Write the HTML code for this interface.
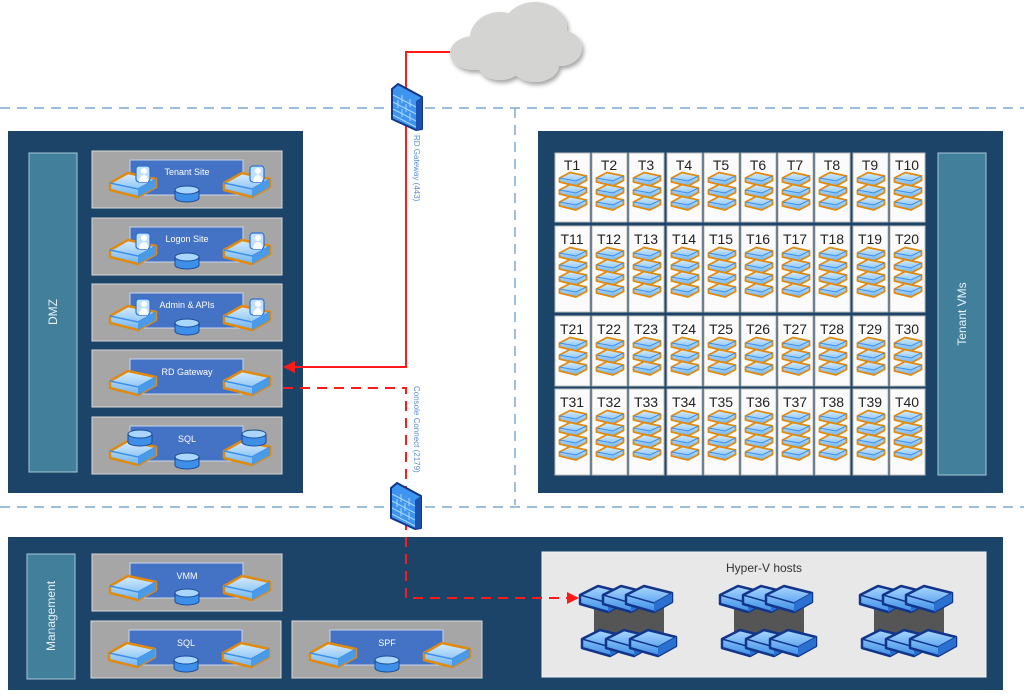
<!DOCTYPE html>
<html><head><meta charset="utf-8"><style>
html,body{margin:0;padding:0;background:#fff;width:1024px;height:695px;overflow:hidden}
svg{display:block}
text{font-family:"Liberation Sans",sans-serif}
</style></head><body>
<svg width="1024" height="695" viewBox="0 0 1024 695" xmlns="http://www.w3.org/2000/svg">
<defs>
<linearGradient id="vmg" x1="0" y1="0" x2="0" y2="1"><stop offset="0" stop-color="#d6ecff"/><stop offset="1" stop-color="#6fb4f0"/></linearGradient>
<linearGradient id="hvg" x1="0" y1="0" x2="0" y2="1"><stop offset="0" stop-color="#a9d6ff"/><stop offset="1" stop-color="#3d8fe8"/></linearGradient>
<symbol id="vm" viewBox="0 0 30 16" width="30" height="16">
<polygon points="1.5,7 12,1.5 28.5,5 28.5,9.5 18,15 1.5,11" fill="url(#vmg)" stroke="#e08a10" stroke-width="1.8" stroke-linejoin="round"/>
<polyline points="1.5,7 18,10 28.5,5" fill="none" stroke="#3d8fe8" stroke-width="1"/>
</symbol>
<symbol id="srv" viewBox="0 0 50 30" width="50" height="30">
<polygon points="2,14 20,4 48,10 48,18 30,28 2,21" fill="url(#vmg)" stroke="#e08a10" stroke-width="2.5" stroke-linejoin="round"/>
<polyline points="2,14 30,20 48,10" fill="none" stroke="#3d8fe8" stroke-width="1.5"/>
<polygon points="30,20 48,10 48,18 30,28" fill="#4a9ae8"/>
</symbol>
<symbol id="usr" viewBox="0 0 16 18" width="16" height="18">
<rect x="1" y="1" width="14" height="16" rx="3" fill="#bfe0ff" stroke="#2d6fd0" stroke-width="1.2"/>
<circle cx="9" cy="6" r="3" fill="#fff"/><path d="M4,17 Q5,10 9,10 Q13,10 13,17Z" fill="#fff"/>
</symbol>
<symbol id="db" viewBox="0 0 26 18" width="26" height="18">
<path d="M1,5 v8 a12,4 0 0 0 24,0 v-8" fill="#3d8fe8" stroke="#1a4a9a" stroke-width="1"/>
<ellipse cx="13" cy="5" rx="12" ry="4" fill="#a9d6ff" stroke="#1a4a9a" stroke-width="1"/>
</symbol>
<symbol id="hv" viewBox="0 0 50 32" width="50" height="32">
<polygon points="2,12 20,3 48,10 48,19 30,29 2,21" fill="url(#hvg)" stroke="#12358a" stroke-width="2.5" stroke-linejoin="round"/>
<polyline points="2,12 30,20 48,10" fill="none" stroke="#12358a" stroke-width="1.5"/>
<polygon points="30,20 48,10 48,19 30,29" fill="#2a70d0"/>
</symbol>
<symbol id="fw" viewBox="0 0 34 48" width="34" height="48">
<polygon points="2,6 8,1 32,14 32,46 26,47 2,36" fill="#3d95f0" stroke="#12358a" stroke-width="2" stroke-linejoin="round"/>
<polygon points="26,18 32,14 32,46 26,47" fill="#1a50b0"/>
<g stroke="#a9d6ff" stroke-width="1" fill="none"><path d="M3,12 L26,24 M3,19 L26,31 M3,26 L26,38 M3,32 L26,44 M12,12 v8 M20,16 v8 M8,17 v8 M16,21 v8 M12,26 v8 M20,30 v8"/></g>
</symbol>
<filter id="sh"><feDropShadow dx="2" dy="3" stdDeviation="2" flood-opacity="0.35"/></filter>
</defs>

<!-- cloud -->
<g filter="url(#sh)" fill="#d4d4d2">
<ellipse cx="474" cy="53" rx="24" ry="17"/>
<ellipse cx="500" cy="38" rx="30" ry="26"/>
<ellipse cx="535" cy="28" rx="32" ry="26"/>
<ellipse cx="560" cy="48" rx="22" ry="18"/>
<ellipse cx="500" cy="65" rx="22" ry="15"/>
<ellipse cx="535" cy="65" rx="24" ry="17"/>
<ellipse cx="520" cy="50" rx="40" ry="22"/>
</g>

<!-- dashed separators -->
<g stroke="#7fa8d4" stroke-width="1.5" stroke-dasharray="10,7" fill="none">
<line x1="0" y1="108" x2="1024" y2="108"/>
<line x1="515" y1="108" x2="515" y2="505"/>
<line x1="0" y1="507" x2="1024" y2="507"/>
</g>

<!-- DMZ panel -->
<rect x="8" y="131" width="295" height="362" fill="#1c4469"/>
<rect x="29" y="153" width="48" height="319" fill="#417f9a" stroke="#a8c8d8" stroke-width="1"/>
<text transform="translate(57,312) rotate(-90)" text-anchor="middle" font-size="12" fill="#e8f0f8">DMZ</text>

<g font-size="9" fill="#fff" text-anchor="middle">
<g transform="translate(92,151)">
<rect width="190" height="57" fill="#a6a6a6" stroke="#d8d8d8"/><rect x="38" y="9" width="113" height="35" fill="#4472c4" stroke="#c8d4ec"/>
<text x="95" y="24">Tenant Site</text>
<use href="#srv" x="16" y="18"/><use href="#usr" x="43" y="14"/>
<use href="#srv" x="130" y="18"/><use href="#usr" x="157" y="14"/>
<use href="#db" x="82" y="34"/>
</g>
<g transform="translate(92,218)">
<rect width="190" height="57" fill="#a6a6a6" stroke="#d8d8d8"/><rect x="38" y="9" width="113" height="35" fill="#4472c4" stroke="#c8d4ec"/>
<text x="95" y="24">Logon Site</text>
<use href="#srv" x="16" y="18"/><use href="#usr" x="43" y="14"/>
<use href="#srv" x="130" y="18"/><use href="#usr" x="157" y="14"/>
<use href="#db" x="82" y="34"/>
</g>
<g transform="translate(92,284)">
<rect width="190" height="57" fill="#a6a6a6" stroke="#d8d8d8"/><rect x="38" y="9" width="113" height="35" fill="#4472c4" stroke="#c8d4ec"/>
<text x="95" y="24">Admin &amp; APIs</text>
<use href="#srv" x="16" y="18"/><use href="#usr" x="43" y="14"/>
<use href="#srv" x="130" y="18"/><use href="#usr" x="157" y="14"/>
<use href="#db" x="82" y="34"/>
</g>
<g transform="translate(92,350)">
<rect width="190" height="57" fill="#a6a6a6" stroke="#d8d8d8"/><rect x="38" y="9" width="113" height="35" fill="#4472c4" stroke="#c8d4ec"/>
<text x="95" y="25">RD Gateway</text>
<use href="#srv" x="16" y="17"/>
<use href="#srv" x="130" y="17"/>
</g>
<g transform="translate(92,417)">
<rect width="190" height="57" fill="#a6a6a6" stroke="#d8d8d8"/><rect x="38" y="9" width="113" height="35" fill="#4472c4" stroke="#c8d4ec"/>
<text x="95" y="25">SQL</text>
<use href="#srv" x="16" y="20"/><use href="#db" x="35" y="12"/>
<use href="#srv" x="130" y="20"/><use href="#db" x="149" y="12"/>
<use href="#db" x="82" y="35"/>
</g>

<!-- Management panel -->
<rect x="8" y="537" width="995" height="153" fill="#1c4469"/>
<rect x="27" y="554" width="48" height="125" fill="#417f9a" stroke="#a8c8d8" stroke-width="1"/>
<text transform="translate(55,616) rotate(-90)" font-size="12" fill="#e8f0f8">Management</text>

<g transform="translate(92,554)">
<rect width="190" height="57" fill="#a6a6a6" stroke="#d8d8d8"/><rect x="38" y="9" width="113" height="35" fill="#4472c4" stroke="#c8d4ec"/>
<text x="95" y="25">VMM</text>
<use href="#srv" x="16" y="18"/><use href="#srv" x="130" y="18"/><use href="#db" x="82" y="34"/>
</g>
<g transform="translate(91,621)">
<rect width="190" height="57" fill="#a6a6a6" stroke="#d8d8d8"/><rect x="38" y="9" width="113" height="35" fill="#4472c4" stroke="#c8d4ec"/>
<text x="95" y="25">SQL</text>
<use href="#srv" x="16" y="18"/><use href="#srv" x="130" y="18"/><use href="#db" x="82" y="34"/>
</g>
<g transform="translate(292,621)">
<rect width="190" height="57" fill="#a6a6a6" stroke="#d8d8d8"/><rect x="38" y="9" width="113" height="35" fill="#4472c4" stroke="#c8d4ec"/>
<text x="95" y="25">SPF</text>
<use href="#srv" x="16" y="18"/><use href="#srv" x="130" y="18"/><use href="#db" x="82" y="34"/>
</g>
</g>

<!-- Hyper-V -->
<rect x="542" y="552" width="444" height="125" fill="#e8e8e8" stroke="#f4f4f4"/>
<text x="764" y="572" text-anchor="middle" font-size="12" fill="#333">Hyper-V hosts</text>
<g transform="translate(578,583)">
<rect x="16" y="22" width="70" height="40" fill="#555"/>
<use href="#hv" x="0" y="0"/><use href="#hv" x="23" y="0"/><use href="#hv" x="46" y="0"/>
<use href="#hv" x="2" y="44"/><use href="#hv" x="26" y="44"/><use href="#hv" x="50" y="44"/>
</g>
<g transform="translate(718,583)">
<rect x="16" y="22" width="70" height="40" fill="#555"/>
<use href="#hv" x="0" y="0"/><use href="#hv" x="23" y="0"/><use href="#hv" x="46" y="0"/>
<use href="#hv" x="2" y="44"/><use href="#hv" x="26" y="44"/><use href="#hv" x="50" y="44"/>
</g>
<g transform="translate(858,583)">
<rect x="16" y="22" width="70" height="40" fill="#555"/>
<use href="#hv" x="0" y="0"/><use href="#hv" x="23" y="0"/><use href="#hv" x="46" y="0"/>
<use href="#hv" x="2" y="44"/><use href="#hv" x="26" y="44"/><use href="#hv" x="50" y="44"/>
</g>

<!-- Tenant panel -->
<rect x="538" y="131" width="465" height="362" fill="#1c4469"/>
<rect x="938" y="153" width="48" height="322" fill="#417f9a" stroke="#a8c8d8" stroke-width="1"/>
<text transform="translate(966,314) rotate(-90)" text-anchor="middle" font-size="12" fill="#e8f0f8">Tenant VMs</text>

<g font-size="14" fill="#222" text-anchor="middle">
<g transform="translate(555,153)"><rect width="35" height="69" fill="#fbfbfb" stroke="#bbb"/><text x="17" y="17">T1</text><use href="#vm" x="3" y="18"/><use href="#vm" x="3" y="30"/><use href="#vm" x="3" y="42"/></g>
<g transform="translate(592,153)"><rect width="35" height="69" fill="#fbfbfb" stroke="#bbb"/><text x="17" y="17">T2</text><use href="#vm" x="3" y="18"/><use href="#vm" x="3" y="30"/><use href="#vm" x="3" y="42"/></g>
<g transform="translate(629,153)"><rect width="35" height="69" fill="#fbfbfb" stroke="#bbb"/><text x="17" y="17">T3</text><use href="#vm" x="3" y="18"/><use href="#vm" x="3" y="30"/><use href="#vm" x="3" y="42"/></g>
<g transform="translate(667,153)"><rect width="35" height="69" fill="#fbfbfb" stroke="#bbb"/><text x="17" y="17">T4</text><use href="#vm" x="3" y="18"/><use href="#vm" x="3" y="30"/><use href="#vm" x="3" y="42"/></g>
<g transform="translate(704,153)"><rect width="35" height="69" fill="#fbfbfb" stroke="#bbb"/><text x="17" y="17">T5</text><use href="#vm" x="3" y="18"/><use href="#vm" x="3" y="30"/><use href="#vm" x="3" y="42"/></g>
<g transform="translate(741,153)"><rect width="35" height="69" fill="#fbfbfb" stroke="#bbb"/><text x="17" y="17">T6</text><use href="#vm" x="3" y="18"/><use href="#vm" x="3" y="30"/><use href="#vm" x="3" y="42"/></g>
<g transform="translate(778,153)"><rect width="35" height="69" fill="#fbfbfb" stroke="#bbb"/><text x="17" y="17">T7</text><use href="#vm" x="3" y="18"/><use href="#vm" x="3" y="30"/><use href="#vm" x="3" y="42"/></g>
<g transform="translate(815,153)"><rect width="35" height="69" fill="#fbfbfb" stroke="#bbb"/><text x="17" y="17">T8</text><use href="#vm" x="3" y="18"/><use href="#vm" x="3" y="30"/><use href="#vm" x="3" y="42"/></g>
<g transform="translate(853,153)"><rect width="35" height="69" fill="#fbfbfb" stroke="#bbb"/><text x="17" y="17">T9</text><use href="#vm" x="3" y="18"/><use href="#vm" x="3" y="30"/><use href="#vm" x="3" y="42"/></g>
<g transform="translate(890,153)"><rect width="35" height="69" fill="#fbfbfb" stroke="#bbb"/><text x="17" y="17">T10</text><use href="#vm" x="3" y="18"/><use href="#vm" x="3" y="30"/><use href="#vm" x="3" y="42"/></g>
<g transform="translate(555,226)"><rect width="35" height="86" fill="#fbfbfb" stroke="#bbb"/><text x="17" y="18">T11</text><use href="#vm" x="3" y="20"/><use href="#vm" x="3" y="32"/><use href="#vm" x="3" y="44"/><use href="#vm" x="3" y="56"/></g>
<g transform="translate(592,226)"><rect width="35" height="86" fill="#fbfbfb" stroke="#bbb"/><text x="17" y="18">T12</text><use href="#vm" x="3" y="20"/><use href="#vm" x="3" y="32"/><use href="#vm" x="3" y="44"/><use href="#vm" x="3" y="56"/></g>
<g transform="translate(629,226)"><rect width="35" height="86" fill="#fbfbfb" stroke="#bbb"/><text x="17" y="18">T13</text><use href="#vm" x="3" y="20"/><use href="#vm" x="3" y="32"/><use href="#vm" x="3" y="44"/><use href="#vm" x="3" y="56"/></g>
<g transform="translate(667,226)"><rect width="35" height="86" fill="#fbfbfb" stroke="#bbb"/><text x="17" y="18">T14</text><use href="#vm" x="3" y="20"/><use href="#vm" x="3" y="32"/><use href="#vm" x="3" y="44"/><use href="#vm" x="3" y="56"/></g>
<g transform="translate(704,226)"><rect width="35" height="86" fill="#fbfbfb" stroke="#bbb"/><text x="17" y="18">T15</text><use href="#vm" x="3" y="20"/><use href="#vm" x="3" y="32"/><use href="#vm" x="3" y="44"/><use href="#vm" x="3" y="56"/></g>
<g transform="translate(741,226)"><rect width="35" height="86" fill="#fbfbfb" stroke="#bbb"/><text x="17" y="18">T16</text><use href="#vm" x="3" y="20"/><use href="#vm" x="3" y="32"/><use href="#vm" x="3" y="44"/><use href="#vm" x="3" y="56"/></g>
<g transform="translate(778,226)"><rect width="35" height="86" fill="#fbfbfb" stroke="#bbb"/><text x="17" y="18">T17</text><use href="#vm" x="3" y="20"/><use href="#vm" x="3" y="32"/><use href="#vm" x="3" y="44"/><use href="#vm" x="3" y="56"/></g>
<g transform="translate(815,226)"><rect width="35" height="86" fill="#fbfbfb" stroke="#bbb"/><text x="17" y="18">T18</text><use href="#vm" x="3" y="20"/><use href="#vm" x="3" y="32"/><use href="#vm" x="3" y="44"/><use href="#vm" x="3" y="56"/></g>
<g transform="translate(853,226)"><rect width="35" height="86" fill="#fbfbfb" stroke="#bbb"/><text x="17" y="18">T19</text><use href="#vm" x="3" y="20"/><use href="#vm" x="3" y="32"/><use href="#vm" x="3" y="44"/><use href="#vm" x="3" y="56"/></g>
<g transform="translate(890,226)"><rect width="35" height="86" fill="#fbfbfb" stroke="#bbb"/><text x="17" y="18">T20</text><use href="#vm" x="3" y="20"/><use href="#vm" x="3" y="32"/><use href="#vm" x="3" y="44"/><use href="#vm" x="3" y="56"/></g>
<g transform="translate(555,316)"><rect width="35" height="70" fill="#fbfbfb" stroke="#bbb"/><text x="17" y="18">T21</text><use href="#vm" x="3" y="20"/><use href="#vm" x="3" y="32"/><use href="#vm" x="3" y="44"/></g>
<g transform="translate(592,316)"><rect width="35" height="70" fill="#fbfbfb" stroke="#bbb"/><text x="17" y="18">T22</text><use href="#vm" x="3" y="20"/><use href="#vm" x="3" y="32"/><use href="#vm" x="3" y="44"/></g>
<g transform="translate(629,316)"><rect width="35" height="70" fill="#fbfbfb" stroke="#bbb"/><text x="17" y="18">T23</text><use href="#vm" x="3" y="20"/><use href="#vm" x="3" y="32"/><use href="#vm" x="3" y="44"/></g>
<g transform="translate(667,316)"><rect width="35" height="70" fill="#fbfbfb" stroke="#bbb"/><text x="17" y="18">T24</text><use href="#vm" x="3" y="20"/><use href="#vm" x="3" y="32"/><use href="#vm" x="3" y="44"/></g>
<g transform="translate(704,316)"><rect width="35" height="70" fill="#fbfbfb" stroke="#bbb"/><text x="17" y="18">T25</text><use href="#vm" x="3" y="20"/><use href="#vm" x="3" y="32"/><use href="#vm" x="3" y="44"/></g>
<g transform="translate(741,316)"><rect width="35" height="70" fill="#fbfbfb" stroke="#bbb"/><text x="17" y="18">T26</text><use href="#vm" x="3" y="20"/><use href="#vm" x="3" y="32"/><use href="#vm" x="3" y="44"/></g>
<g transform="translate(778,316)"><rect width="35" height="70" fill="#fbfbfb" stroke="#bbb"/><text x="17" y="18">T27</text><use href="#vm" x="3" y="20"/><use href="#vm" x="3" y="32"/><use href="#vm" x="3" y="44"/></g>
<g transform="translate(815,316)"><rect width="35" height="70" fill="#fbfbfb" stroke="#bbb"/><text x="17" y="18">T28</text><use href="#vm" x="3" y="20"/><use href="#vm" x="3" y="32"/><use href="#vm" x="3" y="44"/></g>
<g transform="translate(853,316)"><rect width="35" height="70" fill="#fbfbfb" stroke="#bbb"/><text x="17" y="18">T29</text><use href="#vm" x="3" y="20"/><use href="#vm" x="3" y="32"/><use href="#vm" x="3" y="44"/></g>
<g transform="translate(890,316)"><rect width="35" height="70" fill="#fbfbfb" stroke="#bbb"/><text x="17" y="18">T30</text><use href="#vm" x="3" y="20"/><use href="#vm" x="3" y="32"/><use href="#vm" x="3" y="44"/></g>
<g transform="translate(555,389)"><rect width="35" height="86" fill="#fbfbfb" stroke="#bbb"/><text x="17" y="18">T31</text><use href="#vm" x="3" y="20"/><use href="#vm" x="3" y="32"/><use href="#vm" x="3" y="44"/><use href="#vm" x="3" y="56"/></g>
<g transform="translate(592,389)"><rect width="35" height="86" fill="#fbfbfb" stroke="#bbb"/><text x="17" y="18">T32</text><use href="#vm" x="3" y="20"/><use href="#vm" x="3" y="32"/><use href="#vm" x="3" y="44"/><use href="#vm" x="3" y="56"/></g>
<g transform="translate(629,389)"><rect width="35" height="86" fill="#fbfbfb" stroke="#bbb"/><text x="17" y="18">T33</text><use href="#vm" x="3" y="20"/><use href="#vm" x="3" y="32"/><use href="#vm" x="3" y="44"/><use href="#vm" x="3" y="56"/></g>
<g transform="translate(667,389)"><rect width="35" height="86" fill="#fbfbfb" stroke="#bbb"/><text x="17" y="18">T34</text><use href="#vm" x="3" y="20"/><use href="#vm" x="3" y="32"/><use href="#vm" x="3" y="44"/><use href="#vm" x="3" y="56"/></g>
<g transform="translate(704,389)"><rect width="35" height="86" fill="#fbfbfb" stroke="#bbb"/><text x="17" y="18">T35</text><use href="#vm" x="3" y="20"/><use href="#vm" x="3" y="32"/><use href="#vm" x="3" y="44"/><use href="#vm" x="3" y="56"/></g>
<g transform="translate(741,389)"><rect width="35" height="86" fill="#fbfbfb" stroke="#bbb"/><text x="17" y="18">T36</text><use href="#vm" x="3" y="20"/><use href="#vm" x="3" y="32"/><use href="#vm" x="3" y="44"/><use href="#vm" x="3" y="56"/></g>
<g transform="translate(778,389)"><rect width="35" height="86" fill="#fbfbfb" stroke="#bbb"/><text x="17" y="18">T37</text><use href="#vm" x="3" y="20"/><use href="#vm" x="3" y="32"/><use href="#vm" x="3" y="44"/><use href="#vm" x="3" y="56"/></g>
<g transform="translate(815,389)"><rect width="35" height="86" fill="#fbfbfb" stroke="#bbb"/><text x="17" y="18">T38</text><use href="#vm" x="3" y="20"/><use href="#vm" x="3" y="32"/><use href="#vm" x="3" y="44"/><use href="#vm" x="3" y="56"/></g>
<g transform="translate(853,389)"><rect width="35" height="86" fill="#fbfbfb" stroke="#bbb"/><text x="17" y="18">T39</text><use href="#vm" x="3" y="20"/><use href="#vm" x="3" y="32"/><use href="#vm" x="3" y="44"/><use href="#vm" x="3" y="56"/></g>
<g transform="translate(890,389)"><rect width="35" height="86" fill="#fbfbfb" stroke="#bbb"/><text x="17" y="18">T40</text><use href="#vm" x="3" y="20"/><use href="#vm" x="3" y="32"/><use href="#vm" x="3" y="44"/><use href="#vm" x="3" y="56"/></g>
</g>

<!-- red connectors -->
<polyline points="450,52 406,52 406,367 292,367" fill="none" stroke="#ff1a1a" stroke-width="2"/>
<polygon points="283,367 295,361 295,373" fill="#ff1a1a"/>
<polyline points="283,388 406,388 406,598 568,598" fill="none" stroke="#ff1a1a" stroke-width="2" stroke-dasharray="10,7"/>
<polygon points="579,598 567,592 567,604" fill="#ff1a1a"/>

<!-- firewalls -->
<use href="#fw" x="390" y="83"/>
<use href="#fw" x="389" y="482"/>

<!-- vertical labels -->
<text transform="translate(414,135) rotate(90)" font-size="8" fill="#5b8fd0">RD Gateway (443)</text>
<text transform="translate(414,386) rotate(90)" font-size="8" fill="#5b8fd0">Console Connect (2179)</text>
</svg>
</body></html>
